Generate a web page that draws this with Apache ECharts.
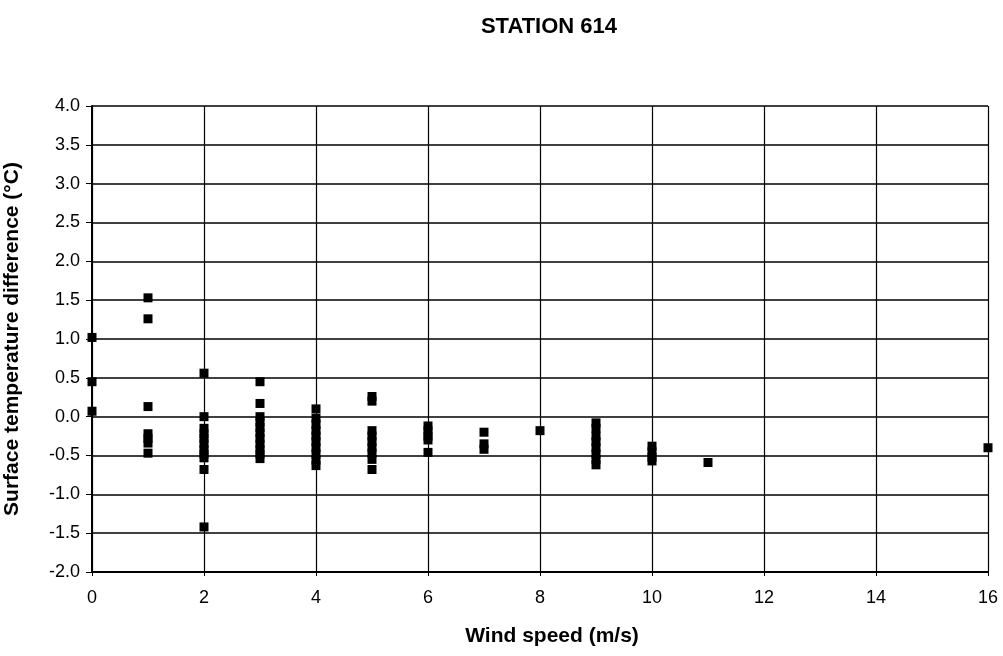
<!DOCTYPE html>
<html>
<head>
<meta charset="utf-8">
<script src="https://cdn.jsdelivr.net/npm/echarts@6/dist/echarts.min.js"></script>
<style>
html, body { margin: 0; padding: 0; background: #fff; }
#main { width: 1003px; height: 656px; }
</style>
</head>
<body>
<div id="main"></div>
<script>
// wind speed groups and the temperature differences read at each one
var windSpeeds = [0, 1, 2, 3, 4, 5, 6, 7, 8, 9, 10, 11, 16];
var tempDiffs = [
	[1.02, 0.45, 0.07],
	[1.53, 1.26, 0.13, -0.22, -0.28, -0.34, -0.47],
	[0.56, 0.0, -0.15, -0.22, -0.28, -0.35, -0.42, -0.48, -0.53, -0.68, -1.42],
	[0.45, 0.17, 0.0, -0.07, -0.14, -0.21, -0.28, -0.35, -0.42, -0.48, -0.54],
	[0.10, -0.02, -0.10, -0.18, -0.25, -0.32, -0.40, -0.48, -0.56, -0.63],
	[0.26, 0.20, -0.18, -0.25, -0.32, -0.40, -0.47, -0.55, -0.68],
	[-0.12, -0.18, -0.25, -0.30, -0.46],
	[-0.20, -0.35, -0.42],
	[-0.18],
	[-0.08, -0.15, -0.25, -0.32, -0.40, -0.48, -0.55, -0.62],
	[-0.38, -0.45, -0.52, -0.57],
	[-0.59],
	[-0.40]
];
var xTicks = [0, 16, 2];   // min, max, interval
var yTicks = [-2, 4, 0.5];

var points = [];
for (var i = 0; i < windSpeeds.length; i++) {
	for (var j = 0; j < tempDiffs[i].length; j++) {
		points.push([windSpeeds[i], tempDiffs[i][j]]);
	}
}

var chart = echarts.init(document.getElementById('main'));
var font = 'Liberation Sans, Arial, sans-serif';

var option = {
	animation: false,
	backgroundColor: '#fff',
	title: {
		text: 'STATION 614',
		left: 544,
		top: 11,
		textAlign: 'center',
		textStyle: { fontFamily: font, fontSize: 22, fontWeight: 'bold', color: '#000' }
	},
	grid: { left: 92, right: 15, top: 106, bottom: 84, outerBoundsMode: 'none' },
	xAxis: {
		type: 'value',
		min: xTicks[0],
		max: xTicks[1],
		interval: xTicks[2],
		name: 'Wind speed (m/s)',
		nameLocation: 'middle',
		nameGap: 54,
		nameTextStyle: { fontFamily: font, fontSize: 21, fontWeight: 'bold', color: '#000', padding: [0, 0, 0, 24] },
		axisLine: { onZero: false, lineStyle: { color: '#000', width: 2 } },
		axisTick: { show: true, length: 4, lineStyle: { color: '#000' } },
		axisLabel: { fontFamily: font, fontSize: 18, color: '#000', margin: 17 },
		splitLine: { show: true, lineStyle: { color: '#000', width: 1.2 } }
	},
	yAxis: {
		type: 'value',
		min: yTicks[0],
		max: yTicks[1],
		interval: yTicks[2],
		name: 'Surface temperature difference (°C)',
		nameLocation: 'middle',
		nameGap: 69,
		nameTextStyle: { fontFamily: font, fontSize: 21, fontWeight: 'bold', color: '#000' },
		axisLine: { show: true, onZero: false, lineStyle: { color: '#000', width: 2 } },
		axisTick: { show: true, length: 6, lineStyle: { color: '#000' } },
		axisLabel: {
			fontFamily: font, fontSize: 18, color: '#000', margin: 12,
			formatter: function (v) { return v.toFixed(1); }
		},
		splitLine: { show: true, lineStyle: { color: '#000', width: 1.5 } }
	},
	series: [{
		type: 'scatter',
		symbol: 'rect',
		symbolSize: 9,
		itemStyle: { color: '#000', opacity: 1 },
		data: points
	}]
};

chart.setOption(option);
</script>
</body>
</html>
